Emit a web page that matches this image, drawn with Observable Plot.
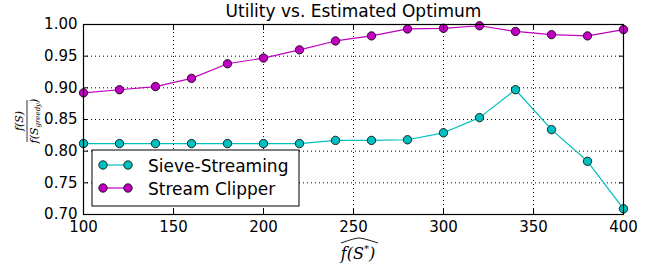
<!DOCTYPE html>
<html>
<head>
<meta charset="utf-8">
<script src="https://cdn.jsdelivr.net/npm/d3@7"></script>
<script src="https://cdn.jsdelivr.net/npm/@observablehq/plot@0.6"></script>
<style>
  html, body { margin: 0; padding: 0; background: #fff; }
  #chart { position: relative; width: 662px; height: 266px; }
  svg { font-family: "DejaVu Sans", sans-serif; }
</style>
</head>
<body>
<div id="chart"></div>
<script>
const xValues = [100, 120, 140, 160, 180, 200, 220, 240, 260, 280, 300, 320, 340, 360, 380, 400];
const sieveStreaming = [0.812, 0.812, 0.812, 0.812, 0.812, 0.812, 0.812, 0.817, 0.817, 0.818, 0.829, 0.853, 0.897, 0.834, 0.784, 0.709];
const streamClipper = [0.892, 0.897, 0.902, 0.915, 0.938, 0.947, 0.960, 0.974, 0.982, 0.993, 0.994, 0.998, 0.989, 0.984, 0.982, 0.992];
const seriesNames = ["Sieve-Streaming", "Stream Clipper"];
const seriesColors = ["#00bfbf", "#bf00bf"];
const xTicks = [100, 150, 200, 250, 300, 350, 400];
const yTicks = [0.70, 0.75, 0.80, 0.85, 0.90, 0.95, 1.00];
const titleText = "Utility vs. Estimated Optimum";

const data = [];
[sieveStreaming, streamClipper].forEach((vals, i) => {
  vals.forEach((v, j) => data.push({series: seriesNames[i], x: xValues[j], y: v}));
});

const tick = 5;
const chart = Plot.plot({
  width: 662,
  height: 266,
  marginLeft: 83,
  marginRight: 39,
  marginTop: 24,
  marginBottom: 52,
  style: {fontSize: "14px", fontFamily: "DejaVu Sans, sans-serif", color: "#000", background: "#fff", overflow: "visible"},
  x: {domain: [100, 400], ticks: xTicks},
  y: {domain: [0.70, 1.00], ticks: yTicks},
  color: {domain: seriesNames, range: seriesColors},
  marks: [
    Plot.gridX(xTicks, {stroke: "#000", strokeOpacity: 1, strokeWidth: 1, strokeDasharray: "1,3"}),
    Plot.gridY(yTicks, {stroke: "#000", strokeOpacity: 1, strokeWidth: 1, strokeDasharray: "1,3"}),
    Plot.line(data, {x: "x", y: "y", z: "series", stroke: "series", strokeWidth: 1.2}),
    Plot.dot(data, {x: "x", y: "y", fill: "series", stroke: "#000", strokeWidth: 0.8, r: 4.2}),
    Plot.frame({stroke: "#000", strokeWidth: 1.2}),
    Plot.axisX(xTicks, {anchor: "bottom", tickSize: 0, tickPadding: 7, tickFormat: d => d3.format("d")(d), label: null, fontSize: 15}),
    Plot.axisY(yTicks, {anchor: "left", tickSize: 0, tickPadding: 6, tickFormat: d => d.toFixed(2), label: null, fontSize: 15}),
    Plot.axisX(xTicks, {anchor: "bottom", tickSize: tick, tickFormat: () => "", label: null, dy: -tick, stroke: "#000"}),
    Plot.axisX(xTicks, {anchor: "top", tickSize: tick, tickFormat: () => "", label: null, dy: tick, stroke: "#000"}),
    Plot.axisY(yTicks, {anchor: "left", tickSize: tick, tickFormat: () => "", label: null, dx: tick, stroke: "#000"}),
    Plot.axisY(yTicks, {anchor: "right", tickSize: tick, tickFormat: () => "", label: null, dx: -tick, stroke: "#000"}),
    Plot.text([titleText], {frameAnchor: "top", lineAnchor: "middle", dy: -13, text: d => d, fontSize: 17, fill: "#000"})
  ]
});
document.getElementById("chart").appendChild(chart);

const svg = d3.select(chart);
const serif = "'DejaVu Serif', 'Liberation Serif', serif";

// Y label: f(S) / f(S_greedy), rotated
const yl = svg.append("g").attr("transform", "translate(27,121) rotate(-90)")
  .attr("font-family", serif).attr("font-style", "italic").attr("fill", "#000").attr("text-anchor", "middle");
yl.append("text").attr("x", 0).attr("y", -4).attr("font-size", 11).text("f(S)");
yl.append("line").attr("x1", -21).attr("x2", 21).attr("y1", 0).attr("y2", 0).attr("stroke", "#000").attr("stroke-width", 0.8);
const den = yl.append("text").attr("x", 0).attr("y", 11).attr("font-size", 11);
den.append("tspan").text("f(S");
den.append("tspan").attr("font-size", 7).attr("dy", 2).text("greedy");
den.append("tspan").attr("dy", -2).text(")");

// X label: hat f(S*)
const xl = svg.append("g").attr("font-family", serif).attr("font-style", "italic").attr("fill", "#000");
const xt = xl.append("text").attr("x", 358).attr("y", 259).attr("text-anchor", "middle").attr("font-size", 16);
xt.append("tspan").text("f(S");
xt.append("tspan").attr("font-size", 10).attr("dy", -7).text("*");
xt.append("tspan").attr("dy", 7).text(")");
xl.append("path").attr("d", "M341,243 Q355,238 359,238 Q363,238 378,243").attr("fill", "none").attr("stroke", "#000").attr("stroke-width", 0.9);

// Legend
const lg = svg.append("g");
lg.append("rect").attr("x", 92).attr("y", 150).attr("width", 207).attr("height", 56)
  .attr("fill", "#fff").attr("stroke", "#000").attr("stroke-width", 1);
seriesNames.forEach((name, i) => {
  const y = 165 + i * 23;
  lg.append("line").attr("x1", 103).attr("x2", 128).attr("y1", y).attr("y2", y).attr("stroke", seriesColors[i]).attr("stroke-width", 1.2);
  [103, 128].forEach(cx => lg.append("circle").attr("cx", cx).attr("cy", y).attr("r", 4.2)
    .attr("fill", seriesColors[i]).attr("stroke", "#000").attr("stroke-width", 0.8));
  lg.append("text").attr("x", 148).attr("y", y + 6.5).attr("text-anchor", "start").attr("font-size", 17).attr("fill", "#000").text(name);
});
</script>
</body>
</html>
